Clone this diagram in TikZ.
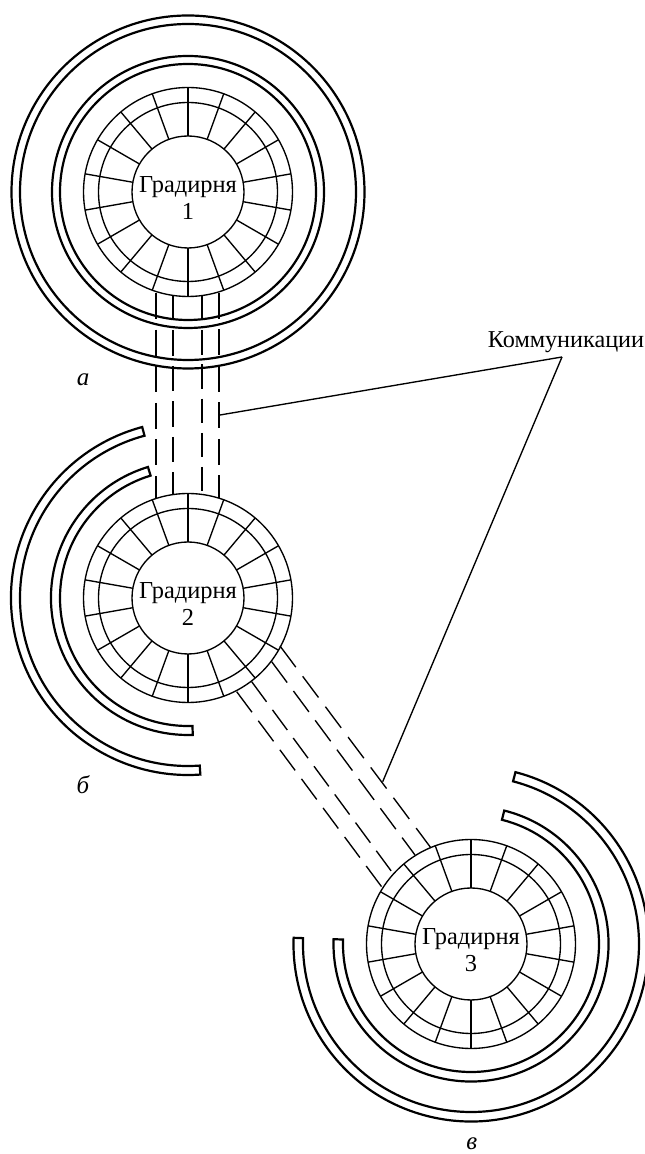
\documentclass[tikz,border=0pt]{standalone}
\usepackage{fontspec}
\setmainfont{Liberation Serif}
\tikzset{
	ringwall/.style={line width=2.2pt,line join=miter},
	towerline/.style={line width=1.35pt},
	towerdisc/.style={circle,draw,towerline,inner sep=0pt,outer sep=0pt},
	commline/.style={line width=1.35pt},
	towertext/.style={font=\fontsize{24.4}{26.5}\selectfont,align=center},
	partlabel/.style={font=\fontsize{25}{27}\selectfont\itshape,inner sep=0pt}
}
\newcommand{\gradirnya}[4]{
	\node[towerdisc,minimum size=209pt] (out#1) at (#2,#3) {};
	\node[towerdisc,minimum size=179pt] (mid#1) at (#2,#3) {};
	\node[towerdisc,minimum size=112pt] (in#1) at (#2,#3) {};
	\node[towertext] (name#1) at ([yshift=-6pt]in#1.center) {Градирня\\#4};
	\foreach \a in {10,30,...,350} {
		\draw[towerline] (in#1.\a) to (out#1.\a);
	}
}
\begin{document}
\begin{tikzpicture}[x=1pt,y=1pt]
		\useasboundingbox (0,0) rectangle (645,1154);

		\gradirnya{1}{188}{962}{1}
		\gradirnya{2}{188}{556}{2}
		\gradirnya{3}{471}{210}{3}

		\draw[ringwall] (188,962) circle[radius=128];
		\draw[ringwall] (188,962) circle[radius=136];
		\draw[ringwall] (188,962) circle[radius=168];
		\draw[ringwall] (188,962) circle[radius=176.5];

		\begin{scope}[shift={(188,556)}]
			\draw[ringwall] (107:137) arc[start angle=107,end angle=272,radius=137] -- (272:128) arc[start angle=272,end angle=107,radius=128] -- cycle;
			\draw[ringwall] (105:177) arc[start angle=105,end angle=274,radius=177] -- (274:168) arc[start angle=274,end angle=105,radius=168] -- cycle;
		\end{scope}

		\begin{scope}[shift={(471,210)}]
			\draw[ringwall] (76:137.5) arc[start angle=76,end angle=-182,radius=137.5] -- (-182:128) arc[start angle=-182,end angle=76,radius=128] -- cycle;
			\draw[ringwall] (75.5:177.5) arc[start angle=75.5,end angle=-182,radius=177.5] -- (-182:168) arc[start angle=-182,end angle=75.5,radius=168] -- cycle;
		\end{scope}

		\foreach \n/\xa/\ya/\xb/\yb/\don/\doff in {
			a/156/861/156/656/26/10.6,
			b/173/859/173/660/25.5/10,
			c/202/858/202/663/24.5/9.7,
			d/219/861/219/656/26/10.5,
			e/280/508/431/306/26.4/11.5,
			f/271.7/492.3/415/299/26/10.5,
			g/251.7/472.3/391.7/282.3/25/10,
			h/236.7/462.3/382.3/266.3/25.6/10.6} {
			\coordinate (from\n) at (\xa,\ya);
			\coordinate (to\n) at (\xb,\yb);
			\draw[commline,dash pattern=on \don pt off \doff pt] (from\n) to (to\n);
		}

		\node[font=\fontsize{24.2}{26}\selectfont,anchor=base] (comm) at (566,806) {Коммуникации};
		\coordinate (apex) at (562,797);
		\coordinate (lead1) at (220,739);
		\coordinate (lead2) at (382.7,372.3);
		\draw[commline] (apex) to (lead1);
		\draw[commline] (apex) to (lead2);

		\node[partlabel] (A) at (83,774) {а};
		\node[partlabel] (B) at (83,369) {б};
		\node[partlabel] (C) at (471.7,10) {в};
	\end{tikzpicture}
\end{document}
